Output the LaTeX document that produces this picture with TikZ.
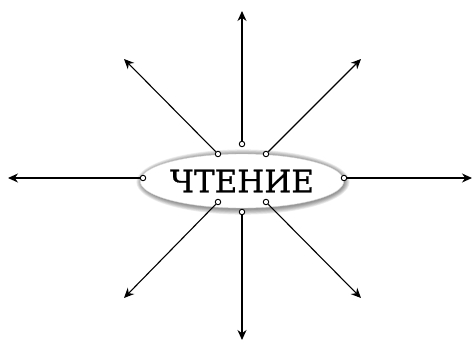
\documentclass[tikz,border=0pt]{standalone}
\usepackage{fontspec}
\setmainfont{DejaVu Serif}
\newfontfamily\temafont[FakeBold=0.8]{DejaVu Serif}
\usetikzlibrary{arrows.meta,shapes.geometric}
\tikzset{
  tema/.style={ellipse, draw=black!15, fill=white, minimum width=202pt, minimum height=54pt, inner sep=0pt, font=\temafont\fontsize{31}{31}\selectfont},
  punto/.style={circle, draw=black, fill=white, line width=0.9pt, minimum size=5.5pt, inner sep=0pt},
  fl/.style={-{Stealth[length=10pt,width=9pt]}, line width=1.1pt, black},
}
\begin{document}
\begin{tikzpicture}[x=1pt, y=-1pt]
  \useasboundingbox (0,0) rectangle (474,342);
  % sombra
  \foreach \i in {1,...,7}
    \fill[black, opacity=0.07] (243,182) ellipse ({101+0.8*\i} and {27+0.8*\i});
  \node[tema] (chtenie) at (242,181) {ЧТЕНИЕ};
  % puntos y flechas
  \foreach \nom/\px/\py/\fx/\fy in {l/143/178/8/178, r/344/178/472/178, t/242/144/242/11, b/242/212/242/340,
      tl/218/154/124/59, tr/266/154/361/59, bl/218/202/124/298, br/266/202/361/298} {
    \node[punto] (p\nom) at (\px,\py) {};
    \coordinate (f\nom) at (\fx,\fy);
    \draw[fl] (p\nom) -- (f\nom);
  }
\end{tikzpicture}
\end{document}
